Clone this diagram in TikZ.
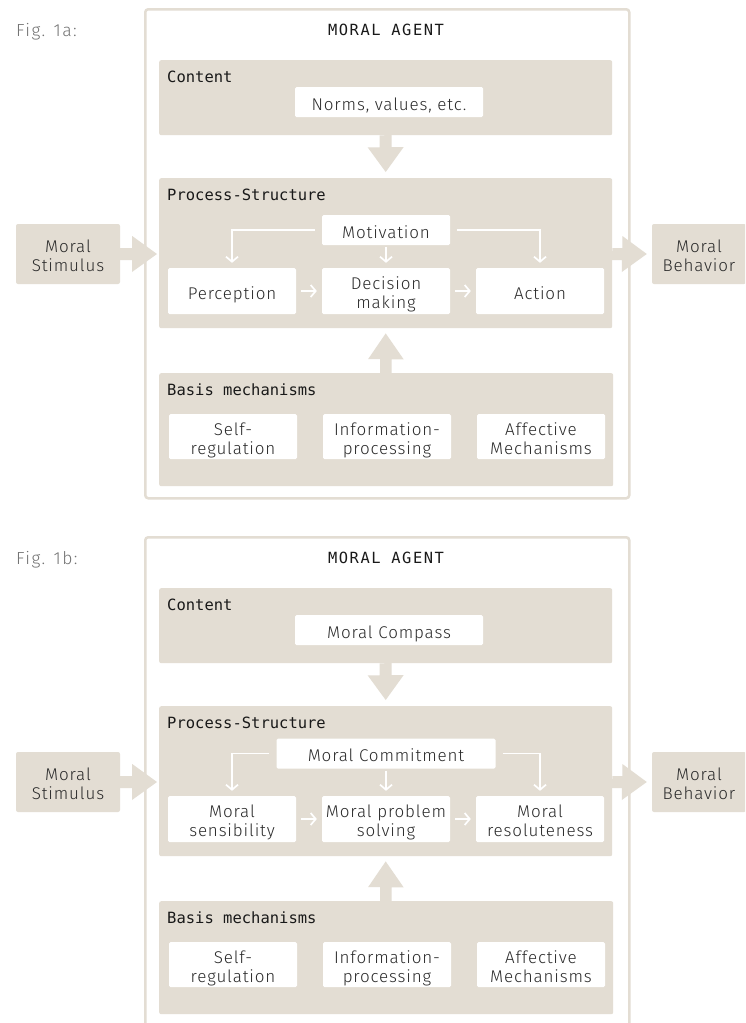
\documentclass[tikz,border=0pt]{standalone}
\usepackage{fontspec}
\setmainfont{Fira Sans Light}[LetterSpace=5]
\newfontfamily\headfont{DejaVu Sans Mono}
\newfontfamily\agentfont{DejaVu Sans Mono}[LetterSpace=10]
\usetikzlibrary{arrows.meta,calc}
\definecolor{beige}{HTML}{E3DDD3}
\definecolor{ink}{HTML}{2A2A2A}
\newcommand\lowtxt[1]{\raisebox{-4.5pt}[\height][\depth]{\begin{tabular}{@{}c@{}}#1\end{tabular}}}
\tikzset{
  grp/.style={fill=beige, rounded corners=2pt, inner sep=0pt},
  wbox/.style={fill=white, rounded corners=1.5pt, inner sep=0pt, font=\fontsize{17}{19}\selectfont, text=ink},
  side/.style={fill=beige, rounded corners=2pt, inner sep=0pt, font=\fontsize{17}{19}\selectfont, text=ink},
  head/.style={anchor=base west, inner sep=0pt, font=\headfont\fontsize{15.5}{18}\selectfont, text=black!90},
  frame/.style={draw=beige, line width=2.5pt, rounded corners=3pt, fill=white, inner sep=0pt},
  flow/.style={draw=white, line width=1.7pt, -{Straight Barb[length=5pt,width=12pt]}},
  big/.style={fill=beige},
}
% #1 offset, #2 a/b, #3 content, #4 motivation, #5 motivation width, #6 motivation y,
% #7 perception, #8 decision, #9 action
\newcommand\moralfig[9]{%
\begin{scope}[yshift=-#1pt, name prefix=#2-]
  \node[frame, minimum width=484pt, minimum height=489pt, anchor=north west] (frame) at (144,8) {};
  \node[anchor=base west, inner sep=0pt, font=\fontsize{17.5}{18}\selectfont\addfontfeatures{LetterSpace=8}, text=black!55] (fig) at (16,36) {Fig. 1#2:};
  \node[anchor=base, inner sep=0pt, font=\agentfont\fontsize{15.4}{18}\selectfont, text=black!90] (title) at (386,35) {MORAL AGENT};
  % content
  \node[grp, minimum width=453pt, minimum height=75pt, anchor=north west] (content) at (159,60) {};
  \node[head] (contentlbl) at (167,82) {Content};
  \node[wbox, minimum width=188pt, minimum height=30pt] (ctext) at (389,102) {\lowtxt{#3}};
  % process
  \node[grp, minimum width=453pt, minimum height=150pt, anchor=north west] (process) at (159,178) {};
  \node[head] (processlbl) at (167,200) {Process-Structure};
  \node[wbox, minimum width=#5pt, minimum height=30pt] (motiv) at (386,#6) {\lowtxt{#4}};
  \node[wbox, minimum width=128pt, minimum height=46pt] (perc) at (232,291) {\lowtxt{#7}};
  \node[wbox, minimum width=128pt, minimum height=46pt] (dec) at (386,291) {\lowtxt{#8}};
  \node[wbox, minimum width=128pt, minimum height=46pt] (act) at (540,291) {\lowtxt{#9}};
  % basis
  \node[grp, minimum width=454pt, minimum height=113pt, anchor=north west] (basis) at (159,373) {};
  \node[head] (basislbl) at (167,395) {Basis mechanisms};
  \node[wbox, minimum width=128pt, minimum height=45pt] (selfreg) at (233,436.5) {\lowtxt{Self-\\regulation}};
  \node[wbox, minimum width=128pt, minimum height=45pt] (info) at (387,436.5) {\lowtxt{Information-\\processing}};
  \node[wbox, minimum width=128pt, minimum height=45pt] (affect) at (541,436.5) {\lowtxt{Affective\\Mechanisms}};
  % outside
  \node[side, minimum width=104pt, minimum height=60pt] (stim) at (68,254) {\lowtxt{Moral\\Stimulus}};
  \node[side, minimum width=94pt, minimum height=60pt] (behav) at (699,254) {\lowtxt{Moral\\Behavior}};
  % big arrows
  \fill[big] (content.south) ++(-6,0) -- ++(0,12) -- ++(-12,0) -- ($(process.north)+(0,-6)$)
     -- ++(18,-25) -- ++(-12,0) -- ++(0,-12) -- cycle;
  \fill[big] (basis.north) ++(-6,0) -- ++(0,-14) -- ++(-12,0) -- ($(process.south)+(0,5)$)
     -- ++(18,26) -- ++(-12,0) -- ++(0,14) -- cycle;
  \fill[big] (stim.east) ++(0,-6) -- ++(12,0) -- ++(0,-12) -- ($(stim.east -| process.west)+(-2,0)$)
     -- ++(-25,18) -- ++(0,-12) -- ++(-12,0) -- cycle;
  \fill[big] ($(process.east |- behav.west)+(0,-6)$) -- ++(10,0) -- ++(0,-12) -- ($(behav.west)+(-5,0)$)
     -- ++(-25,18) -- ++(0,-12) -- ++(-10,0) -- cycle;
  % white flow arrows
  \draw[flow] ($(motiv.west)+(-7,0)$) -| ($(perc.north)+(0,-5)$);
  \draw[flow] ($(motiv.east)+(7,0)$) -| ($(act.north)+(0,-5)$);
  \draw[flow] ($(motiv.south)+(0,2)$) -- ($(dec.north)+(0,-5)$);
  \draw[flow] ($(perc.east)+(5,0)$) -- ($(dec.west)+(-5,0)$);
  \draw[flow] ($(dec.east)+(5,0)$) -- ($(act.west)+(-5,0)$);
\end{scope}}

\begin{document}
\begin{tikzpicture}[x=1pt, y=-1pt]
  \useasboundingbox (0,0) rectangle (745,1023);
  \fill[white] (0,0) rectangle (745,1023);
  \clip (0,0) rectangle (745,1023);
  \moralfig{0}{a}{Norms, values, etc.}{Motivation}{128}{230}{Perception}{Decision\\making}{Action}
  \moralfig{528}{b}{Moral Compass}{Moral Commitment}{219}{225.5}{Moral\\sensibility}{Moral problem\\solving}{Moral\\resoluteness}
\end{tikzpicture}
\end{document}
